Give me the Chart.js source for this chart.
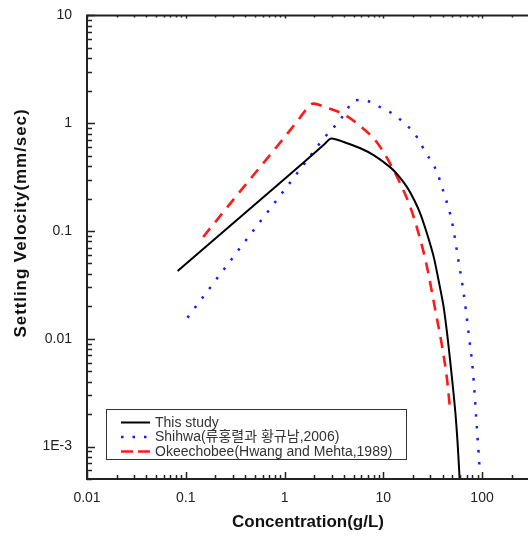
<!DOCTYPE html>
<html><head><meta charset="utf-8">
<script src="https://cdn.jsdelivr.net/npm/chart.js@4.4.1/dist/chart.umd.min.js"></script>
<style>html,body{margin:0;padding:0;background:#fff;}#wrap{width:528px;height:536px;position:relative;}</style>
</head><body><div id="wrap"><canvas id="c" width="528" height="536"></canvas></div>
<script>
const seriesNames = ['This study', 'Shihwa(류홍렬과 황규남,2006)', 'Okeechobee(Hwang and Mehta,1989)'];

const thisStudyConc = [0.0827, 1.0, 2.5, 2.96, 3.97, 5.86, 7.98, 11.8, 14.5, 17.4, 20.5, 23.7, 27.7, 32.4, 36.5, 40.8, 44.5, 47.8, 50.8, 53.7, 56.5, 59.3];
const thisStudyVel  = [0.0425, 0.304, 0.63, 0.721, 0.67, 0.585, 0.505, 0.389, 0.32, 0.255, 0.195, 0.145, 0.0946, 0.0575, 0.034, 0.0199, 0.0108, 0.00598, 0.0035, 0.00207, 0.0011, 0.0005];

const shihwaConc = [0.104, 0.423, 1.45, 2.49, 3.67, 4.30, 5.01, 6.32, 7.98, 10.1, 12.7, 16.1, 20.3, 23.7, 26.7, 31.2, 35.0, 40.8, 49.7, 57.9, 65.2, 73.1, 81.1, 87.5, 94.6];
const shihwaVel  = [0.0157, 0.086, 0.376, 0.721, 1.08, 1.34, 1.62, 1.64, 1.52, 1.35, 1.21, 1.01, 0.819, 0.662, 0.536, 0.433, 0.35, 0.229, 0.121, 0.0518, 0.0264, 0.0113, 0.00483, 0.0018, 0.00062];

const okeeConc = [0.150, 0.385, 1.06, 1.45, 1.69, 1.95, 2.69, 3.97, 6.09, 8.64, 11.3, 14.9, 18.8, 22.8, 27.7, 33.6, 39.4, 44.2, 47.8];
const okeeVel  = [0.088, 0.255, 0.792, 1.14, 1.37, 1.52, 1.39, 1.21, 0.91, 0.662, 0.449, 0.274, 0.166, 0.0946, 0.0466, 0.0185, 0.0085, 0.0042, 0.00207];

const xTickValues = [0.01, 0.1, 1, 10, 100];
const xTickLabels = ['0.01', '0.1', '1', '10', '100'];
const yTickValues = [0.001, 0.01, 0.1, 1, 10];
const yTickLabels = ['1E-3', '0.01', '0.1', '1', '10'];
const xTitle = 'Concentration(g/L)';
const yTitle = 'Settling Velocity(mm/sec)';

const X_MIN = 0.01, X_MAX = 292, Y_MIN = 5e-4, Y_MAX = 10;

function logTicks(min, max) {
  const out = [];
  for (let e = -4; e <= 3; e++) {
    for (let m = 1; m <= 9; m++) {
      const v = parseFloat((m * Math.pow(10, e)).toPrecision(6));
      if (v >= min * 0.9999 && v <= max * 1.0001) out.push({ v, major: m === 1 });
    }
  }
  return out;
}
function labelFor(vals, labels, v) {
  for (let i = 0; i < vals.length; i++) if (Math.abs(vals[i] - v) / vals[i] < 1e-6) return labels[i];
  return '';
}
const pts = (xs, ys) => xs.map((x, i) => ({ x, y: ys[i] }));

const FONT = '"Liberation Sans", Arial, "Noto Sans CJK KR", sans-serif';
const INK = '#222';

const overlay = {
  id: 'overlay',
  afterDraw(chart) {
    const ctx = chart.ctx;
    const { left, right, top, bottom } = chart.chartArea;
    const xs = chart.scales.x, ys = chart.scales.y;
    ctx.save();
    ctx.strokeStyle = INK; ctx.lineWidth = 2; ctx.lineCap = 'butt';
    ctx.beginPath();
    ctx.moveTo(right, top); ctx.lineTo(left, top); ctx.lineTo(left, bottom); ctx.lineTo(right, bottom);
    ctx.stroke();
    ctx.lineWidth = 1.5;
    ctx.beginPath();
    logTicks(Y_MIN, Y_MAX).forEach(t => {
      const p = Math.round(ys.getPixelForValue(t.v)) + 0.5;
      ctx.moveTo(left, p); ctx.lineTo(left + (t.major ? 8 : 5), p);
    });
    logTicks(X_MIN, X_MAX).forEach(t => {
      const p = Math.round(xs.getPixelForValue(t.v)) + 0.5;
      ctx.moveTo(p, bottom); ctx.lineTo(p, bottom - (t.major ? 7 : 4));
      ctx.moveTo(p, top); ctx.lineTo(p, top + (t.major ? 3 : 2));
    });
    ctx.stroke();

    ctx.fillStyle = '#111';
    ctx.font = 'bold 17px ' + FONT;
    ctx.textAlign = 'center'; ctx.textBaseline = 'middle';
    const hasLS = ('letterSpacing' in ctx);
    if (hasLS) ctx.letterSpacing = '0px';
    ctx.fillText(xTitle, 308, 522);
    ctx.save();
    ctx.translate(21, 223);
    ctx.rotate(-Math.PI / 2);
    if (hasLS) {
      const w = ctx.measureText(yTitle).width;
      ctx.letterSpacing = Math.max(0, (229 - w) / yTitle.length).toFixed(2) + 'px';
    }
    ctx.fillText(yTitle, 0, 0);
    ctx.restore();
    if (hasLS) ctx.letterSpacing = '0px';

    const bx = 106.5, by = 409.5, bw = 300, bh = 50;
    ctx.fillStyle = '#fff';
    ctx.fillRect(bx, by, bw, bh);
    ctx.strokeStyle = '#333'; ctx.lineWidth = 1;
    ctx.strokeRect(bx, by, bw, bh);
    const rows = [422.5, 437, 451.5];
    const legendDash = [[], [2.5, 9], [12, 5]];
    chart.data.datasets.forEach((d, i) => {
      ctx.strokeStyle = d.borderColor; ctx.lineWidth = d.borderWidth;
      ctx.setLineDash(legendDash[i]);
      ctx.beginPath(); ctx.moveTo(121, rows[i]); ctx.lineTo(150, rows[i]); ctx.stroke();
      ctx.setLineDash([]);
      ctx.fillStyle = '#333';
      ctx.font = '14px ' + FONT;
      ctx.textAlign = 'left'; ctx.textBaseline = 'middle';
      ctx.fillText(d.label, 155, rows[i] + 0.5);
    });
    ctx.restore();
  }
};

new Chart(document.getElementById('c'), {
  type: 'line',
  data: {
    datasets: [
      { label: seriesNames[0], data: pts(thisStudyConc, thisStudyVel), borderColor: '#000', borderWidth: 2, pointRadius: 0, fill: false, tension: 0.25 },
      { label: seriesNames[1], data: pts(shihwaConc, shihwaVel), borderColor: '#1a1aff', borderWidth: 2.5, borderDash: [2.5, 9.5], pointRadius: 0, fill: false, cubicInterpolationMode: 'monotone' },
      { label: seriesNames[2], data: pts(okeeConc, okeeVel), borderColor: '#ff1a1a', borderWidth: 2.6, borderDash: [11, 8], pointRadius: 0, fill: false, cubicInterpolationMode: 'monotone' }
    ]
  },
  options: {
    responsive: false, animation: false, devicePixelRatio: 1,
    layout: { padding: { left: 0, top: 14, right: 0, bottom: 0 } },
    plugins: { legend: { display: false }, tooltip: { enabled: false } },
    scales: {
      x: {
        type: 'logarithmic', min: X_MIN, max: X_MAX,
        grid: { display: false }, border: { display: false },
        afterBuildTicks(s) { s.ticks = logTicks(X_MIN, X_MAX).map(t => ({ value: t.v })); },
        afterFit(s) { s.height = 57; },
        ticks: { autoSkip: false, maxRotation: 0, padding: 3, color: INK, font: { family: FONT, size: 14 },
          callback: v => labelFor(xTickValues, xTickLabels, v) }
      },
      y: {
        type: 'logarithmic', min: Y_MIN, max: Y_MAX,
        grid: { display: false }, border: { display: false },
        afterBuildTicks(s) { s.ticks = logTicks(Y_MIN, Y_MAX).map(t => ({ value: t.v })); },
        afterFit(s) { s.width = 87; },
        ticks: { autoSkip: false, padding: 7, color: INK, font: { family: FONT, size: 14 },
          callback: v => labelFor(yTickValues, yTickLabels, v) }
      }
    }
  },
  plugins: [overlay]
});
</script></body></html>
